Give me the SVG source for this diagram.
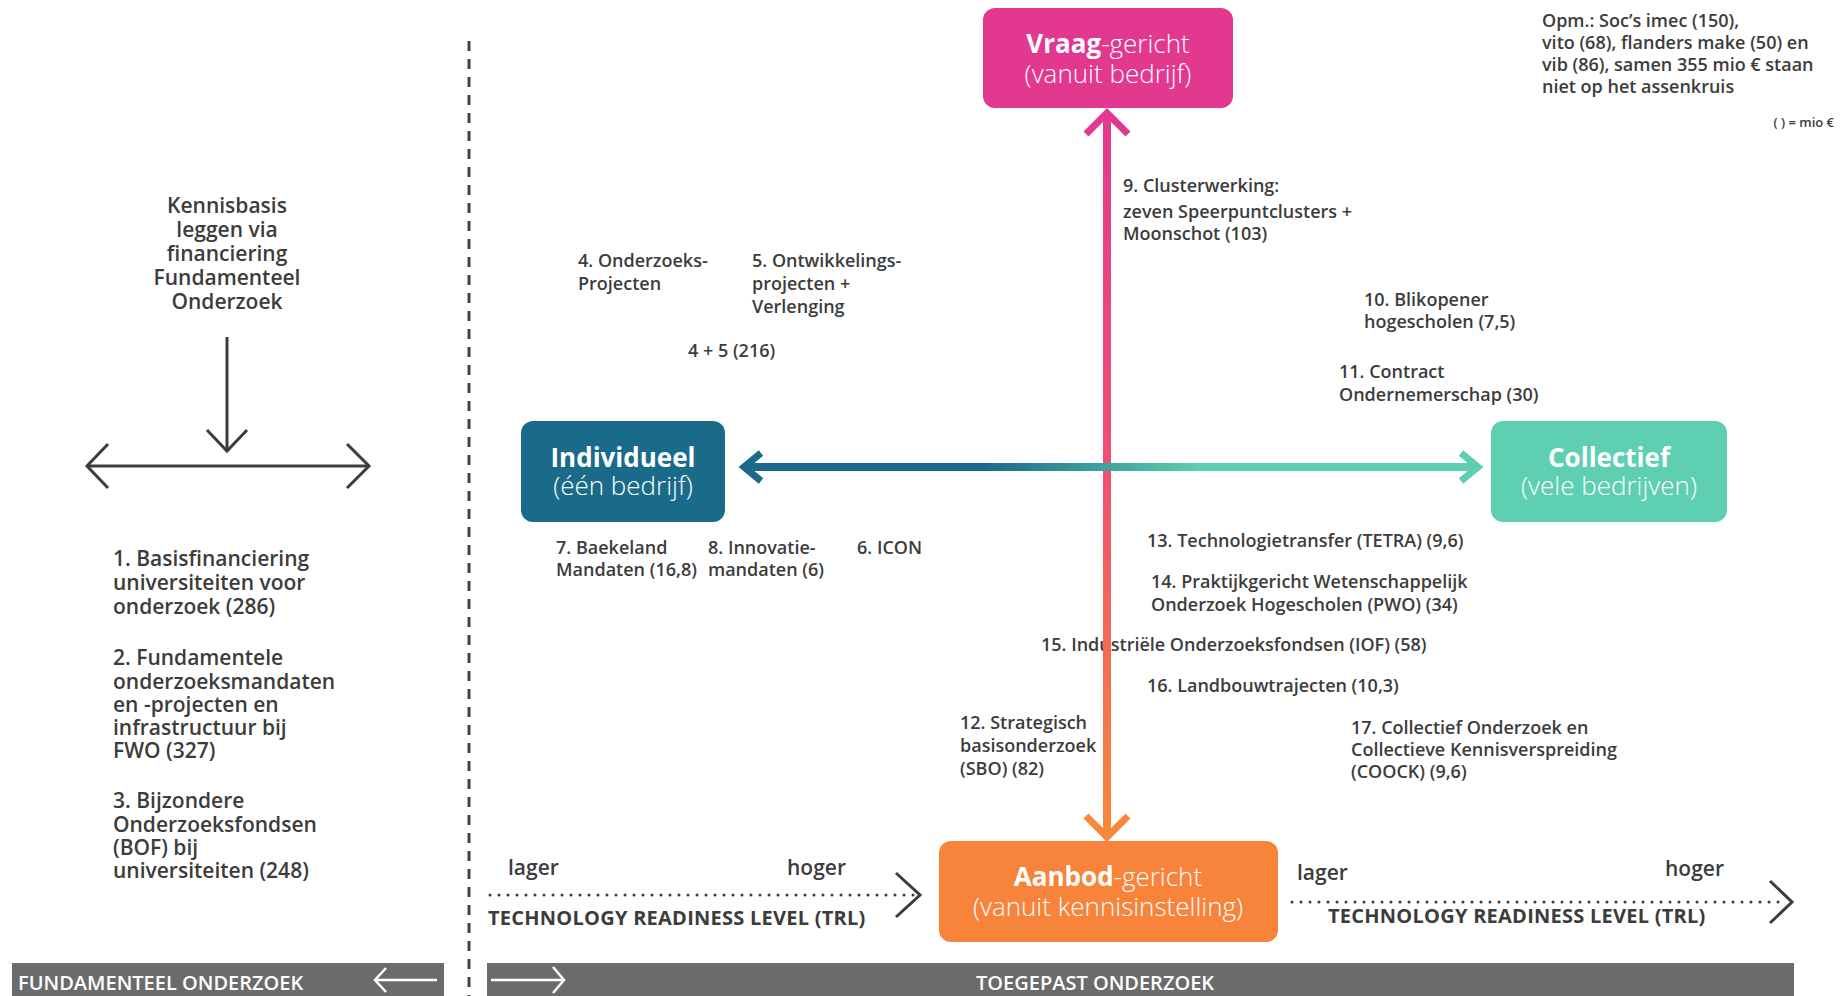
<svg xmlns="http://www.w3.org/2000/svg" width="1843" height="996" viewBox="0 0 1843 996">
<defs>
<linearGradient id="gv" x1="0" y1="112" x2="0" y2="837" gradientUnits="userSpaceOnUse">
<stop offset="0" stop-color="#e2388f"/>
<stop offset="0.5" stop-color="#ee5270"/>
<stop offset="1" stop-color="#f7883a"/>
</linearGradient>
<linearGradient id="gh" x1="741" y1="0" x2="1481" y2="0" gradientUnits="userSpaceOnUse">
<stop offset="0" stop-color="#1a6b8a"/>
<stop offset="0.33" stop-color="#1a6b8a"/>
<stop offset="0.62" stop-color="#5ecfb1"/>
<stop offset="1" stop-color="#5ecfb1"/>
</linearGradient>
</defs>
<style>
text{font-family:"Open Sans","Liberation Sans",sans-serif;fill:#3c3c3c;font-weight:600}
.t{font-size:18px}
.l{font-size:21px}
.n{font-size:26px;fill:#ffffff}
.b{font-weight:700}
.lt{font-weight:300}
.bar{fill:#6b6b6b}
.bt{font-size:20px;fill:#ffffff;font-weight:600}
.ar{fill:none;stroke:#3c3c3c;stroke-width:3}
.w{fill:none;stroke:#ffffff;stroke-width:2.5}
.dot{fill:none;stroke:#3c3c3c;stroke-width:3;stroke-linecap:round;stroke-dasharray:0 9}
.trl{font-size:20px;font-weight:700;letter-spacing:0.25px}
</style>

<!-- dashed divider -->
<line x1="469" y1="41" x2="469" y2="996" stroke="#444" stroke-width="3" stroke-dasharray="10 8"/>

<!-- left side -->
<g id="kennisbasis">
<text class="l" text-anchor="middle"><tspan x="227" y="213">Kennisbasis</tspan><tspan x="227" y="237">leggen via</tspan><tspan x="227" y="261">financiering</tspan><tspan x="227" y="285">Fundamenteel</tspan><tspan x="227" y="309">Onderzoek</tspan></text>
<line class="ar" x1="227" y1="337" x2="227" y2="451"/>
<polyline class="ar" points="207,430 227,451 247,430"/>
<line class="ar" x1="87" y1="466" x2="369" y2="466"/>
<polyline class="ar" points="108,444 87,466 108,488"/>
<polyline class="ar" points="347,444 369,466 347,488"/>
</g>
<g id="fund-list">
<text class="l"><tspan x="113" y="566">1. Basisfinanciering</tspan><tspan x="113" y="590">universiteiten voor</tspan><tspan x="113" y="614">onderzoek (286)</tspan></text>
<text class="l"><tspan x="113" y="665">2. Fundamentele</tspan><tspan x="113" y="689">onderzoeksmandaten</tspan><tspan x="113" y="712">en -projecten en</tspan><tspan x="113" y="735">infrastructuur bij</tspan><tspan x="113" y="758">FWO (327)</tspan></text>
<text class="l"><tspan x="113" y="808">3. Bijzondere</tspan><tspan x="113" y="832">Onderzoeksfondsen</tspan><tspan x="113" y="855">(BOF) bij</tspan><tspan x="113" y="878">universiteiten (248)</tspan></text>
</g>

<!-- note -->
<g id="note">
<text class="t"><tspan x="1542" y="27">Opm.: Soc’s imec (150),</tspan><tspan x="1542" y="49">vito (68), flanders make (50) en</tspan><tspan x="1542" y="71">vib (86), samen 355 mio €  staan</tspan><tspan x="1542" y="93">niet op het assenkruis</tspan></text>
<text x="1834" y="127" text-anchor="end" style="font-size:13px">( ) = mio €</text>
</g>

<!-- labels -->
<g id="labels">
<text class="t"><tspan x="578" y="267">4. Onderzoeks-</tspan><tspan x="578" y="290">Projecten</tspan></text>
<text class="t"><tspan x="752" y="267">5. Ontwikkelings-</tspan><tspan x="752" y="290">projecten +</tspan><tspan x="752" y="313">Verlenging</tspan></text>
<text class="t" x="688" y="357">4 + 5 (216)</text>
<text class="t"><tspan x="556" y="554">7. Baekeland</tspan><tspan x="556" y="576">Mandaten (16,8)</tspan></text>
<text class="t"><tspan x="708" y="554">8. Innovatie-</tspan><tspan x="708" y="576">mandaten (6)</tspan></text>
<text class="t" x="857" y="554">6. ICON</text>
<text class="t"><tspan x="1123" y="192">9. Clusterwerking:</tspan><tspan x="1123" y="218">zeven Speerpuntclusters +</tspan><tspan x="1123" y="240">Moonschot (103)</tspan></text>
<text class="t"><tspan x="1364" y="306">10. Blikopener</tspan><tspan x="1364" y="328">hogescholen (7,5)</tspan></text>
<text class="t"><tspan x="1339" y="378">11. Contract</tspan><tspan x="1339" y="401">Ondernemerschap (30)</tspan></text>
<text class="t" x="1147" y="547">13. Technologietransfer (TETRA) (9,6)</text>
<text class="t"><tspan x="1151" y="588">14. Praktijkgericht Wetenschappelijk</tspan><tspan x="1151" y="611">Onderzoek Hogescholen (PWO) (34)</tspan></text>
<text class="t" x="1041" y="651">15. Industriële Onderzoeksfondsen (IOF) (58)</text>
<text class="t" x="1147" y="692">16. Landbouwtrajecten (10,3)</text>
<text class="t"><tspan x="960" y="729">12. Strategisch</tspan><tspan x="960" y="752">basisonderzoek</tspan><tspan x="960" y="775">(SBO) (82)</tspan></text>
<text class="t"><tspan x="1351" y="734">17. Collectief Onderzoek en</tspan><tspan x="1351" y="756">Collectieve Kennisverspreiding</tspan><tspan x="1351" y="778">(COOCK) (9,6)</tspan></text>
</g>

<!-- TRL scales -->
<g id="trl-left">
<text class="l" x="508" y="875">lager</text>
<text class="l" x="787" y="875">hoger</text>
<line class="dot" x1="490" y1="895" x2="914" y2="895"/>
<polyline class="ar" points="896,873 920,895 896,917"/>
<text class="trl" x="488" y="925">TECHNOLOGY READINESS LEVEL (TRL)</text>
</g>
<g id="trl-right">
<text class="l" x="1297" y="880">lager</text>
<text class="l" x="1665" y="876">hoger</text>
<line class="dot" x1="1292" y1="902" x2="1784" y2="902"/>
<polyline class="ar" points="1770,881 1792,902 1770,923"/>
<text class="trl" x="1328" y="923">TECHNOLOGY READINESS LEVEL (TRL)</text>
</g>

<!-- bottom bars -->
<g id="bar-fund">
<rect class="bar" x="12" y="963" width="432" height="40"/>
<text class="bt" x="18" y="990">FUNDAMENTEEL ONDERZOEK</text>
<line class="w" x1="377" y1="980" x2="437" y2="980"/>
<polyline class="w" points="386,968 375,980 386,992"/>
</g>
<g id="bar-toegepast">
<rect class="bar" x="487" y="963" width="1307" height="40"/>
<text class="bt" x="976" y="990">TOEGEPAST ONDERZOEK</text>
<line class="w" x1="491" y1="980" x2="562" y2="980"/>
<polyline class="w" points="553,967 564,980 553,993"/>
</g>

<!-- connectors -->
<g id="connectors">
<line x1="1107" y1="116" x2="1107" y2="833" stroke="url(#gv)" stroke-width="8"/>
<polyline points="1086,134 1107,113 1128,134" fill="none" stroke="#e2388f" stroke-width="7"/>
<polyline points="1086,816 1107,837 1128,816" fill="none" stroke="#f7883a" stroke-width="7"/>
<line x1="745" y1="467" x2="1477" y2="467" stroke="url(#gh)" stroke-width="8"/>
<polyline points="761,453 744,467 761,481" fill="none" stroke="#1a6b8a" stroke-width="7"/>
<polyline points="1461,453 1478,467 1461,481" fill="none" stroke="#5ecfb1" stroke-width="7"/>
</g>

<!-- nodes -->
<g id="vraag">
<rect x="983" y="8" width="250" height="100" rx="12" fill="#e2388f"/>
<text class="n" x="1108" y="53" text-anchor="middle"><tspan class="b">Vraag</tspan><tspan class="lt">-gericht</tspan></text>
<text class="n lt" x="1108" y="83" text-anchor="middle">(vanuit bedrijf)</text>
</g>
<g id="individueel">
<rect x="521" y="421" width="204" height="101" rx="12" fill="#1a6b8a"/>
<text class="n b" x="623" y="467" text-anchor="middle">Individueel</text>
<text class="n lt" x="623" y="495" text-anchor="middle">(één bedrijf)</text>
</g>
<g id="collectief">
<rect x="1491" y="421" width="236" height="101" rx="12" fill="#5ecfb1"/>
<text class="n b" x="1609" y="467" text-anchor="middle">Collectief</text>
<text class="n lt" x="1609" y="495" text-anchor="middle">(vele bedrijven)</text>
</g>
<g id="aanbod">
<rect x="939" y="841" width="339" height="101" rx="12" fill="#f7843a"/>
<text class="n" x="1108" y="886" text-anchor="middle"><tspan class="b">Aanbod</tspan><tspan class="lt">-gericht</tspan></text>
<text class="n lt" x="1108" y="916" text-anchor="middle">(vanuit kennisinstelling)</text>
</g>
</svg>
